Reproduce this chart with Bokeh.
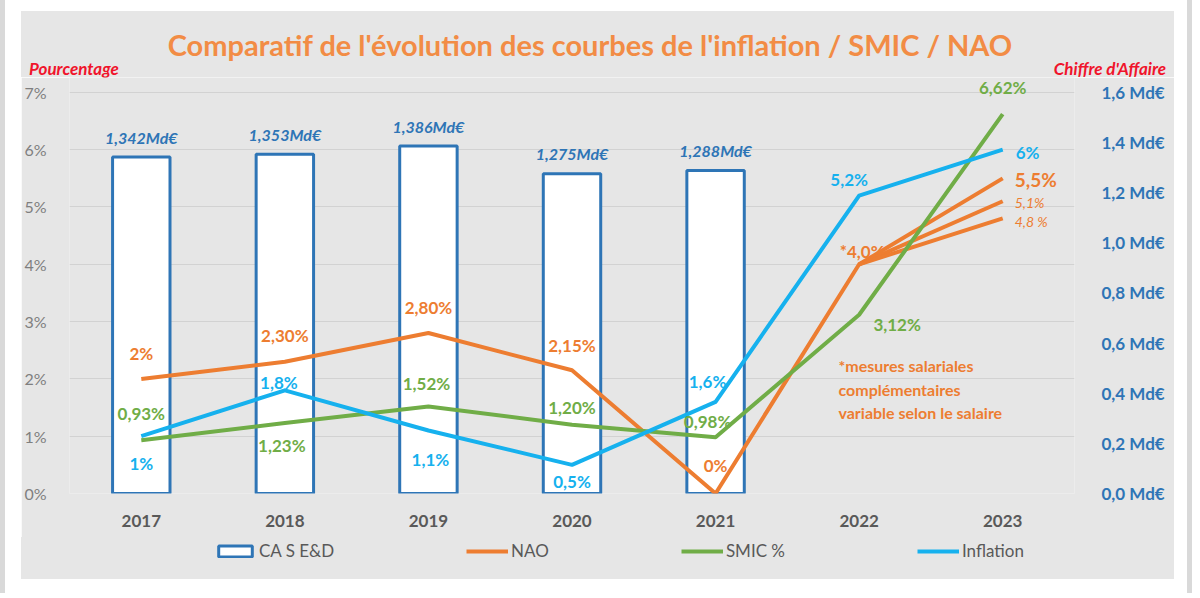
from bokeh.plotting import figure
from bokeh.models import (Range1d, LinearAxis, FixedTicker, Legend, LegendItem,
                          Label, Spacer, Div)
from bokeh.layouts import row, column
from bokeh.core.properties import value
from bokeh.embed import file_html
from bokeh.resources import INLINE

# ---------------- data ----------------
years = ["2017", "2018", "2019", "2020", "2021", "2022", "2023"]

ca_years = ["2017", "2018", "2019", "2020", "2021"]
ca_values = [1.342, 1.353, 1.386, 1.275, 1.288]          # Md€
ca_labels = ["1,342Md€", "1,353Md€", "1,386Md€", "1,275Md€", "1,288Md€"]

nao = [2.0, 2.3, 2.8, 2.15, 0.0, 4.0, 5.5]
nao_labels = ["2%", "2,30%", "2,80%", "2,15%", "0%", "*4,0%", "5,5%"]
nao_alt_2023 = [5.1, 4.8]
nao_alt_labels = ["5,1%", "4,8 %"]

smic = [0.93, 1.23, 1.52, 1.20, 0.98, 3.12, 6.62]
smic_labels = ["0,93%", "1,23%", "1,52%", "1,20%", "0,98%", "3,12%", "6,62%"]

inflation = [1.0, 1.8, 1.1, 0.5, 1.6, 5.2, 6.0]
inflation_labels = ["1%", "1,8%", "1,1%", "0,5%", "1,6%", "5,2%", "6%"]

pct_ticks = [0, 1, 2, 3, 4, 5, 6, 7]
pct_tick_labels = ["0%", "1%", "2%", "3%", "4%", "5%", "6%", "7%"]
ca_ticks = [0.0, 0.2, 0.4, 0.6, 0.8, 1.0, 1.2, 1.4, 1.6]
ca_tick_labels = ["0,0 Md€", "0,2 Md€", "0,4 Md€", "0,6 Md€", "0,8 Md€",
                  "1,0 Md€", "1,2 Md€", "1,4 Md€", "1,6 Md€"]

title_text = "Comparatif de l'évolution des courbes de l'inflation / SMIC / NAO"
left_caption = "Pourcentage"
right_caption = "Chiffre d'Affaire"
note_lines = ["*mesures salariales", "complémentaires", "variable selon le salaire"]
legend_names = ["CA S E&D", "NAO", "SMIC %", "Inflation"]

# ---------------- styles / positions ----------------
FONT = "Lato"
BG = "#E6E6E6"
EDGE = "#D9D9D9"
GRID = "#D2D2D2"
BLUE_BAR = "#2E75B6"
ORANGE = "#ED7D31"
TITLE_ORANGE = "#F28C45"
GREEN = "#70AD47"
CYAN = "#16B1EE"
RED = "#F0142B"
GREY_TXT = "#7F7F7F"
DARK_TXT = "#595959"

W = 1153
HEAD_H = 66
FRAME_H = 416
BOTTOM_H = 44
LEG_H = 42
OUTER_H = 593
Y_TOP = 7.26                      # a little headroom above 7 % for the top label
CA_TOP = 1.6 * Y_TOP / 7.0        # keeps 1,6 Md€ level with 7 %
NAN = float("nan")

# label offsets (pixels, screen; +y = down)
nao_dx = [0, 0, 0, 0, 0, 3]
nao_dy = [-25, -26, -26, -25, -28, -13]
smic_dx = [0, -3, -2, 0, -8, 38, 0]
smic_dy = [-27, 22, -23, -17, -16, 10, -27]
infl_dx = [0, -6, 2, 0, -8, -10]
infl_dy = [27, -8, 29, 17, -20, -16]

# ---------------- header (title + axis captions) ----------------
head_html = (
    f'<div style="position:relative;width:{W}px;height:{HEAD_H}px;background:{BG};'
    f'font-family:{FONT};overflow:visible;">'
    f'<div style="position:absolute;left:0;top:17px;width:1138px;text-align:center;'
    f'font-size:29px;line-height:34px;font-weight:bold;color:{TITLE_ORANGE};'
    f'white-space:nowrap;">{title_text}</div>'
    f'<div style="position:absolute;left:8px;top:48px;font-size:17px;line-height:20px;'
    f'font-weight:bold;font-style:italic;color:{RED};white-space:nowrap;">{left_caption}</div>'
    f'<div style="position:absolute;right:8px;top:48px;font-size:17px;line-height:20px;'
    f'font-weight:bold;font-style:italic;color:{RED};white-space:nowrap;">{right_caption}</div>'
    f'</div>'
)
head = Div(text=head_html, width=W, height=HEAD_H, margin=0)

# ---------------- main figure ----------------
p = figure(x_range=years, y_range=Range1d(0, Y_TOP), width=W, height=FRAME_H + BOTTOM_H,
           output_backend="svg", toolbar_location=None,
           min_border_left=47, min_border_right=100, min_border_top=0,
           min_border_bottom=BOTTOM_H,
           background_fill_color=BG, border_fill_color=BG,
           outline_line_color=None)
p.extra_y_ranges = {"ca": Range1d(0, CA_TOP)}

# grid
p.xgrid.visible = False
p.ygrid.ticker = FixedTicker(ticks=pct_ticks)
p.ygrid.grid_line_color = GRID
p.ygrid.grid_line_width = 1


def plain_axis(ax, size, style, color, standoff):
    ax.axis_line_color = None
    ax.major_tick_line_color = None
    ax.minor_tick_line_color = None
    ax.major_tick_out = 0
    ax.major_tick_in = 0
    ax.minor_tick_out = 0
    ax.minor_tick_in = 0
    ax.major_label_text_font = FONT
    ax.major_label_text_font_size = size
    ax.major_label_text_font_style = style
    ax.major_label_text_color = color
    ax.major_label_standoff = standoff


# x axis
plain_axis(p.xaxis[0], "17px", "bold", DARK_TXT, 21)

# left axis
ya = p.yaxis[0]
ya.ticker = FixedTicker(ticks=pct_ticks)
ya.major_label_overrides = dict(zip(pct_ticks, pct_tick_labels))
plain_axis(ya, "16px", "normal", GREY_TXT, 23)

# right axis
ra = LinearAxis(y_range_name="ca", ticker=FixedTicker(ticks=ca_ticks),
                major_label_overrides=dict(zip(ca_ticks, ca_tick_labels)))
plain_axis(ra, "17px", "bold", BLUE_BAR, 27)
p.add_layout(ra, "right")

# bars
bar_style = dict(fill_color="white", line_color=BLUE_BAR, line_width=3)
p.vbar(x=ca_years, top=ca_values, width=0.4, y_range_name="ca", **bar_style)
p.text(x=ca_years, y=ca_values, text=ca_labels, y_range_name="ca",
       y_offset=-20, text_align="center", text_baseline="middle",
       text_font=value(FONT), text_font_size="16px", text_font_style="bold italic",
       text_color=BLUE_BAR)

# NAO label for 2022 sits under the lines
p.text(x=[years[5]], y=[nao[5]], text=[nao_labels[5]], x_offset=nao_dx[5], y_offset=nao_dy[5],
       text_align="center", text_baseline="middle", text_font=value(FONT),
       text_font_size="17px", text_font_style="bold", text_color=ORANGE)

# lines
line_style = dict(line_width=4, line_join="round")
p.line(years, nao, line_color=ORANGE, **line_style)
for v in nao_alt_2023:
    p.line([years[5], years[6]], [nao[5], v], line_color=ORANGE, **line_style)
p.line(years, smic, line_color=GREEN, **line_style)
p.line(years, inflation, line_color=CYAN, **line_style)

# data labels
p.text(x=years[:5], y=nao[:5], text=nao_labels[:5], x_offset=nao_dx[:5], y_offset=nao_dy[:5],
       text_align="center", text_baseline="middle", text_font=value(FONT),
       text_font_size="17px", text_font_style="bold", text_color=ORANGE)
p.text(x=[years[6]], y=[nao[6]], text=[nao_labels[6]], x_offset=12, y_offset=1,
       text_align="left", text_baseline="middle", text_font=value(FONT),
       text_font_size="19px", text_font_style="bold", text_color=ORANGE)
p.text(x=[years[6]] * 2, y=nao_alt_2023, text=nao_alt_labels, x_offset=12, y_offset=[1, 3],
       text_align="left", text_baseline="middle", text_font=value(FONT),
       text_font_size="14px", text_font_style="italic", text_color=ORANGE)

p.text(x=years, y=smic, text=smic_labels, x_offset=smic_dx, y_offset=smic_dy,
       text_align="center", text_baseline="middle", text_font=value(FONT),
       text_font_size="17px", text_font_style="bold", text_color=GREEN)

p.text(x=years[:6], y=inflation[:6], text=inflation_labels[:6], x_offset=infl_dx,
       y_offset=infl_dy, text_align="center", text_baseline="middle",
       text_font=value(FONT), text_font_size="17px", text_font_style="bold",
       text_color=CYAN)
p.text(x=[years[6]], y=[inflation[6]], text=[inflation_labels[6]], x_offset=13,
       y_offset=3, text_align="left", text_baseline="middle", text_font=value(FONT),
       text_font_size="17px", text_font_style="bold", text_color=CYAN)

# note (screen units relative to the frame)
for i, t in enumerate(note_lines):
    p.add_layout(Label(x=769, y=128 - 23.5 * i, x_units="screen", y_units="screen", text=t,
                       text_font=FONT, text_font_size="16px", text_font_style="bold",
                       text_color=ORANGE, text_baseline="middle", text_align="left"))

# ---------------- legend strip ----------------
q = figure(width=W, height=LEG_H, x_range=Range1d(0, 1), y_range=Range1d(0, 1),
           x_axis_location=None, y_axis_location=None, min_border=0,
           output_backend="svg", toolbar_location=None,
           background_fill_color=BG, background_fill_alpha=0,
           border_fill_color=BG, outline_line_color=None,
           styles={"background-color": BG})
q.grid.visible = False
# legend proxies: one NaN row each so that their styles resolve, nothing is drawn
lg_bar = q.vbar(x=[NAN], top=[NAN], width=0.4, **bar_style)
lg_nao = q.line(x=[NAN], y=[NAN], line_color=ORANGE, **line_style)
lg_smic = q.line(x=[NAN], y=[NAN], line_color=GREEN, **line_style)
lg_infl = q.line(x=[NAN], y=[NAN], line_color=CYAN, **line_style)
legend = Legend(items=[LegendItem(label=legend_names[0], renderers=[lg_bar]),
                       LegendItem(label=legend_names[1], renderers=[lg_nao]),
                       LegendItem(label=legend_names[2], renderers=[lg_smic]),
                       LegendItem(label=legend_names[3], renderers=[lg_infl])],
                orientation="horizontal", location=(145, 18), spacing=132,
                glyph_width=42, glyph_height=14, label_standoff=3, padding=0, margin=0,
                label_text_font=FONT, label_text_font_size="17px",
                label_text_color=DARK_TXT, background_fill_alpha=0, border_line_alpha=0)
q.add_layout(legend)


# ---------------- page frame (light grey edges of the picture) ----------------
def edge(w, h):
    return Div(text=f'<div style="width:{w}px;height:{h}px;background:{EDGE};"></div>',
               width=w, height=h, margin=0)


chart = column(Spacer(height=11), head, p, q)
body = row(edge(5, OUTER_H), Spacer(width=16), chart, Spacer(width=13), edge(5, OUTER_H))
layout = column(body, edge(1192, 2))
open("out.html", "w").write(file_html(layout, INLINE))
